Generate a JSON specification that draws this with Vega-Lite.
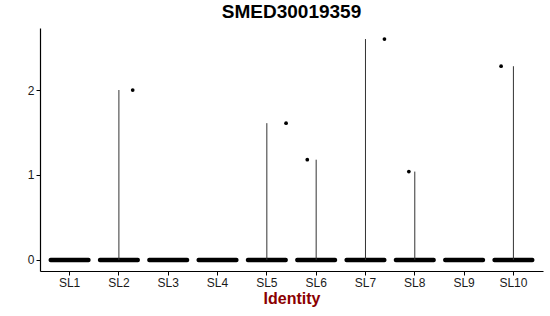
{
  "$schema": "https://vega.github.io/schema/vega-lite/v6.json",
  "autosize": "none",
  "width": 503,
  "height": 243,
  "padding": {"left": 40, "top": 28, "right": 7, "bottom": 45},
  "title": {"text": "SMED30019359", "fontSize": 19, "fontWeight": "bold", "font": "Liberation Sans", "color": "black", "anchor": "middle", "offset": 6},
  "data": {"values": [
    {"identity": "SL1", "min": 0, "max": 0, "jitter": 0},
    {"identity": "SL2", "min": 0, "max": 2.0, "jitter": 0.28},
    {"identity": "SL3", "min": 0, "max": 0, "jitter": 0},
    {"identity": "SL4", "min": 0, "max": 0, "jitter": 0},
    {"identity": "SL5", "min": 0, "max": 1.61, "jitter": 0.39},
    {"identity": "SL6", "min": 0, "max": 1.18, "jitter": -0.18},
    {"identity": "SL7", "min": 0, "max": 2.6, "jitter": 0.385},
    {"identity": "SL8", "min": 0, "max": 1.04, "jitter": -0.12},
    {"identity": "SL9", "min": 0, "max": 0, "jitter": 0},
    {"identity": "SL10", "min": 0, "max": 2.28, "jitter": -0.25}
  ]},
  "encoding": {
    "x": {"field": "identity", "type": "nominal", "sort": null,
      "scale": {"paddingInner": 0, "paddingOuter": 0.1},
      "axis": {"title": "Identity", "labelAngle": 0, "titleColor": "#8B0000", "titleFontSize": 16, "titleFontWeight": "bold", "titlePadding": 2}}
  },
  "layer": [
    {
      "mark": {"type": "tick", "color": "black", "size": 42, "thickness": 4.5, "opacity": 1, "cornerRadius": 2},
      "encoding": {
        "y": {"field": "min", "type": "quantitative",
          "scale": {"domain": [-0.13, 2.73], "nice": false, "zero": false},
          "axis": {"title": null, "values": [0, 1, 2], "format": "d", "grid": false}}
      }
    },
    {
      "transform": [{"filter": "datum.max > 0"}],
      "mark": {"type": "rule", "color": "#333333", "strokeWidth": 1},
      "encoding": {
        "y": {"field": "min", "type": "quantitative"},
        "y2": {"field": "max"}
      }
    },
    {
      "transform": [{"filter": "datum.max > 0"}],
      "mark": {"type": "circle", "color": "black", "size": 14, "opacity": 1},
      "encoding": {
        "y": {"field": "max", "type": "quantitative"},
        "xOffset": {"field": "jitter", "type": "quantitative", "scale": {"domain": [-0.5, 0.5]}}
      }
    }
  ],
  "config": {
    "view": {"stroke": null},
    "font": "Liberation Sans",
    "axis": {"domainColor": "black", "domainWidth": 1.2, "tickColor": "black", "tickSize": 4, "tickWidth": 1, "labelColor": "#1a1a1a", "labelFontSize": 12, "labelFont": "Liberation Sans", "titleFont": "Liberation Sans", "labelPadding": 2, "grid": false}
  }
}
